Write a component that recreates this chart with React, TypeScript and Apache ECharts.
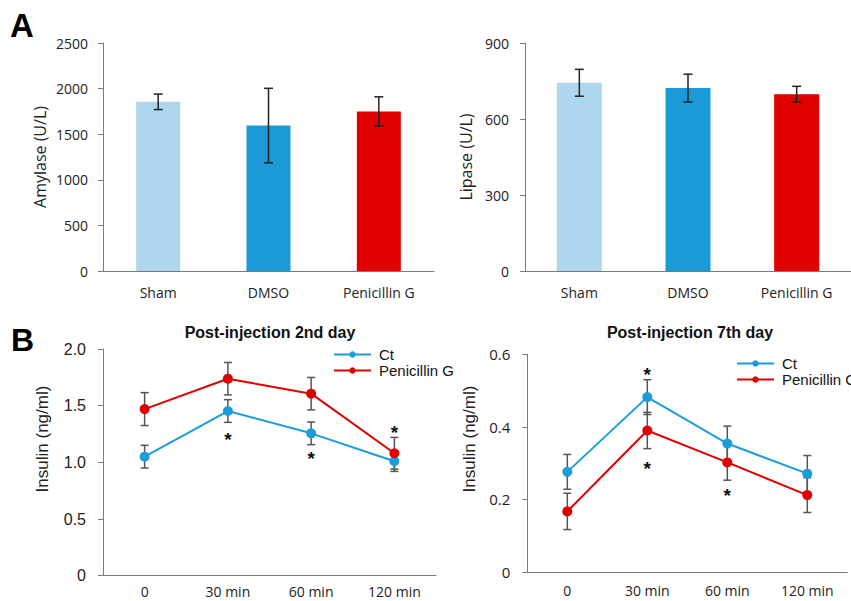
import React, { useEffect, useRef } from "react";
import * as echarts from "echarts";

const barCategories = ["Sham", "DMSO", "Penicillin G"];
const barColors = ["#AED6EC", "#1A9AD6", "#E00000"];
const amylaseMean = [1855, 1595, 1750];
const amylaseErr = [85, 408, 160];
const lipaseMean = [743, 722, 698];
const lipaseErr = [53, 55, 31];

const timeCategories = ["0", "30 min", "60 min", "120 min"];
const day2Ct = [1.05, 1.453, 1.256, 1.01];
const day2CtErr = [0.1, 0.1, 0.1, 0.09];
const day2Pen = [1.47, 1.738, 1.606, 1.08];
const day2PenErr = [0.145, 0.143, 0.143, 0.14];
const day7Ct = [0.276, 0.482, 0.354, 0.271];
const day7CtErr = [0.048, 0.048, 0.048, 0.05];
const day7Pen = [0.167, 0.39, 0.302, 0.212];
const day7PenErr = [0.05, 0.05, 0.049, 0.048];

// asterisk marks: [category index, value]
const day2Stars = [[1, 1.25], [2, 1.074], [3, 1.31]];
const day7Stars = [[1, 0.557], [1, 0.2996], [2, 0.2233]];

const ctColor = "#1B9DD9";
const penColor = "#E00000";
const axisColor = "#7a7a7a";

function errData(mean: number[], err: number[]) {
  return mean.map((m, i) => [i, m - err[i], m + err[i]]);
}

function errSeries(xi: number, data: number[][], color: string, cap: number, z: number) {
  return {
    type: "custom",
    xAxisIndex: xi,
    yAxisIndex: xi,
    z,
    silent: true,
    data,
    renderItem: (params: any, api: any) => {
      const x = api.value(0);
      const lo = api.coord([x, api.value(1)]);
      const hi = api.coord([x, api.value(2)]);
      const w = cap / 2;
      const st = { stroke: color, lineWidth: 1.5 };
      return {
        type: "group",
        children: [
          { type: "line", shape: { x1: hi[0], y1: hi[1], x2: lo[0], y2: lo[1] }, style: st },
          { type: "line", shape: { x1: hi[0] - w, y1: hi[1], x2: hi[0] + w, y2: hi[1] }, style: st },
          { type: "line", shape: { x1: lo[0] - w, y1: lo[1], x2: lo[0] + w, y2: lo[1] }, style: st },
        ],
      };
    },
  };
}

function starSeries(xi: number, data: number[][]) {
  return {
    type: "custom",
    xAxisIndex: xi,
    yAxisIndex: xi,
    z: 10,
    silent: true,
    data,
    renderItem: (params: any, api: any) => {
      const p = api.coord([api.value(0), api.value(1)]);
      return {
        type: "text",
        style: {
          text: "*",
          x: p[0],
          y: p[1] + 5,
          textAlign: "center",
          textVerticalAlign: "middle",
          font: "bold 19px 'Liberation Sans'",
          fill: "#111",
        },
      };
    },
  };
}

function lineSeries(xi: number, name: string, data: number[], color: string) {
  return {
    type: "line",
    name,
    xAxisIndex: xi,
    yAxisIndex: xi,
    data,
    z: 5,
    symbol: "circle",
    symbolSize: 10,
    lineStyle: { color, width: 2 },
    itemStyle: { color },
  };
}

export default function App() {
  const ref = useRef<HTMLDivElement>(null);
  useEffect(() => {
    document.body.style.margin = "0";
    const chart = echarts.init(ref.current!, null, { renderer: "svg" });
    const axisLine = { lineStyle: { color: axisColor, width: 1 } };
    const axisTick = { lineStyle: { color: axisColor, width: 1 }, length: 5 };
    const grids = [
      { left: 103, top: 43, width: 331, height: 228 },
      { left: 525, top: 43, width: 335, height: 228 },
      { left: 103, top: 349, width: 333, height: 226.7 },
      { left: 527.3, top: 354.3, width: 320, height: 217.7 },
    ];
    const catX = (gi: number, data: string[], margin: number) => ({
      type: "category",
      gridIndex: gi,
      data,
      axisLine,
      axisTick: { ...axisTick, alignWithLabel: false },
      axisLabel: { margin, color: "#222", fontFamily: "'Open Sans'", fontSize: 14, lineHeight: 14 },
    });
    const valY = (gi: number, max: number, interval: number, family: string, size: number, fmt: (v: number) => string, margin: number) => ({
      type: "value",
      gridIndex: gi,
      min: 0,
      max,
      interval,
      splitLine: { show: false },
      axisLine: { show: true, ...axisLine },
      axisTick: { show: true, ...axisTick },
      axisLabel: { margin, color: "#222", fontFamily: family, fontSize: size, formatter: fmt },
    });
    const fmt1 = (v: number) => (v === 0 ? "0" : v.toFixed(1));
    const fmtInt = (v: number) => String(v);

    const yA1: any = valY(0, 2500, 500, "'Open Sans'", 14, fmtInt, 15);
    yA1.name = "Amylase (U/L)";
    yA1.nameLocation = "middle";
    yA1.nameGap = 55;
    yA1.nameTextStyle = { fontFamily: "'Open Sans'", fontSize: 16, color: "#222" };
    const yA2: any = valY(1, 900, 300, "'Open Sans'", 14, fmtInt, 16);
    yA2.name = "Lipase (U/L)";
    yA2.nameLocation = "middle";
    yA2.nameGap = 51;
    yA2.nameTextStyle = { fontFamily: "'Open Sans'", fontSize: 16, color: "#222" };

    const legendBase = {
      data: ["Ct", "Penicillin G"],
      orient: "vertical",
      itemWidth: 37,
      itemHeight: 8,
      itemGap: 1,
      padding: 0,
      selectedMode: false,
      textStyle: { fontFamily: "'Liberation Sans'", fontSize: 15, color: "#111", padding: [0, 0, 0, 3] },
    };

    chart.setOption({
      animation: false,
      grid: grids,
      xAxis: [
        catX(0, barCategories, 14),
        catX(1, barCategories, 14),
        catX(2, timeCategories, 9),
        catX(3, timeCategories, 11),
      ],
      yAxis: [
        yA1,
        yA2,
        valY(2, 2, 0.5, "'Liberation Sans'", 16, fmt1, 17),
        valY(3, 0.6, 0.2, "'Open Sans'", 15, fmt1, 17),
      ],
      title: [
        { text: "Post-injection 2nd day", left: 270, top: 324, textAlign: "center", padding: 0,
          textStyle: { fontFamily: "'Liberation Sans'", fontSize: 16, fontWeight: "bold", color: "#111" } },
        { text: "Post-injection 7th day", left: 690, top: 324, textAlign: "center", padding: 0,
          textStyle: { fontFamily: "'Liberation Sans'", fontSize: 16, fontWeight: "bold", color: "#111" } },
      ],
      legend: [
        { ...legendBase, left: 333, top: 347 },
        { ...legendBase, left: 736, top: 356 },
      ],
      graphic: [
        { type: "text", x: 10, y: 9, style: { text: "A", font: "bold 33px 'Liberation Sans'", fill: "#000" } },
        { type: "text", x: 11, y: 324, style: { text: "B", font: "bold 32px 'Liberation Sans'", fill: "#000" } },
        { type: "text", x: 42, y: 439, rotation: Math.PI / 2,
          style: { text: "Insulin (ng/ml)", font: "17px 'Liberation Sans'", fill: "#222", textAlign: "center", textVerticalAlign: "middle" } },
        { type: "text", x: 469, y: 439, rotation: Math.PI / 2,
          style: { text: "Insulin (ng/ml)", font: "17px 'Liberation Sans'", fill: "#222", textAlign: "center", textVerticalAlign: "middle" } },
      ],
      series: [
        {
          type: "bar", xAxisIndex: 0, yAxisIndex: 0, barWidth: 44, z: 2,
          data: amylaseMean.map((v, i) => ({ value: v, itemStyle: { color: barColors[i] } })),
        },
        errSeries(0, errData(amylaseMean, amylaseErr), "#222", 9, 3),
        {
          type: "bar", xAxisIndex: 1, yAxisIndex: 1, barWidth: 45, z: 2,
          data: lipaseMean.map((v, i) => ({ value: v, itemStyle: { color: barColors[i] } })),
        },
        errSeries(1, errData(lipaseMean, lipaseErr), "#222", 9, 3),
        errSeries(2, errData(day2Ct, day2CtErr), "#555", 8, 1),
        errSeries(2, errData(day2Pen, day2PenErr), "#555", 8, 1),
        lineSeries(2, "Ct", day2Ct, ctColor),
        lineSeries(2, "Penicillin G", day2Pen, penColor),
        starSeries(2, day2Stars),
        errSeries(3, errData(day7Ct, day7CtErr), "#555", 8, 1),
        errSeries(3, errData(day7Pen, day7PenErr), "#555", 8, 1),
        lineSeries(3, "Ct", day7Ct, ctColor),
        lineSeries(3, "Penicillin G", day7Pen, penColor),
        starSeries(3, day7Stars),
      ],
    });
    return () => chart.dispose();
  }, []);
  return <div ref={ref} style={{ width: 851, height: 601 }} />;
}
